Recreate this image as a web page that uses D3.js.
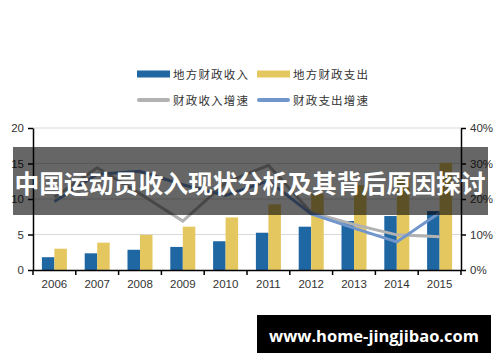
<!DOCTYPE html>
<html>
<head>
  <meta charset="utf-8">
  <script src="https://cdn.jsdelivr.net/npm/d3@7/dist/d3.min.js"></script>
  <style>
    body { margin: 0; background: #fff; }
  </style>
</head>
<body>
  <script>
    var width = 500, height = 362;

    var years = ["2006", "2007", "2008", "2009", "2010", "2011", "2012", "2013", "2014", "2015"];
    var revenue = [1.8, 2.35, 2.85, 3.25, 4.05, 5.25, 6.1, 6.9, 7.6, 8.3];
    var expense = [3.0, 3.85, 4.95, 6.1, 7.4, 9.25, 10.7, 11.95, 12.9, 15.1];
    var revenueGrowth = [20.5, 28.8, 21.5, 13.8, 24.6, 29.5, 16.2, 12.8, 9.9, 9.4];
    var expenseGrowth = [19.3, 27.0, 27.8, 24.0, 21.0, 25.1, 15.8, 11.8, 7.9, 16.1];
    var leftTicks = [0, 5, 10, 15, 20];
    var rightTicks = [0, 10, 20, 30, 40];

    var svg = d3.select("body")
      .append("svg")
      .attr("width", width)
      .attr("height", height);

    var x0 = 33, x1 = 461, yTop = 128, yBot = 270;

    var x = d3.scaleBand().domain(years).range([x0, x1]);
    var yL = d3.scaleLinear().domain([0, 20]).range([yBot, yTop]);
    var yR = d3.scaleLinear().domain([0, 40]).range([yBot, yTop]);

    // grid
    svg.append("g")
      .selectAll("line")
      .data(leftTicks.slice(1))
      .enter().append("line")
      .attr("x1", x0).attr("x2", x1)
      .attr("y1", d => yL(d)).attr("y2", d => yL(d))
      .attr("stroke", "#d9d9d9")
      .attr("stroke-width", 1);

    // bars
    var bw = 12.5;
    svg.append("g").selectAll("rect")
      .data(revenue)
      .enter().append("rect")
      .attr("x", (d, i) => x(years[i]) + x.bandwidth() / 2 - bw)
      .attr("y", d => yL(d))
      .attr("width", bw)
      .attr("height", d => yBot - yL(d))
      .attr("fill", "#1f67a3");

    svg.append("g").selectAll("rect")
      .data(expense)
      .enter().append("rect")
      .attr("x", (d, i) => x(years[i]) + x.bandwidth() / 2)
      .attr("y", d => yL(d))
      .attr("width", bw)
      .attr("height", d => yBot - yL(d))
      .attr("fill", "#e5c760");

    // lines
    var line = d3.line()
      .x((d, i) => x(years[i]) + x.bandwidth() / 2)
      .y(d => yR(d));

    svg.append("path")
      .datum(revenueGrowth)
      .attr("d", line)
      .attr("fill", "none")
      .attr("stroke", "#b2b2b2")
      .attr("stroke-width", 3);

    svg.append("path")
      .datum(expenseGrowth)
      .attr("d", line)
      .attr("fill", "none")
      .attr("stroke", "#7096cc")
      .attr("stroke-width", 3);

    // axes
    var axisFont = "'Liberation Sans', Arial, sans-serif";

    var left = svg.append("g")
      .attr("transform", "translate(" + x0 + ",0)")
      .call(d3.axisLeft(yL).tickValues(leftTicks).tickSize(5).tickSizeOuter(0));
    var right = svg.append("g")
      .attr("transform", "translate(" + x1 + ",0)")
      .call(d3.axisRight(yR).tickValues(rightTicks).tickSize(5).tickSizeOuter(0)
        .tickFormat(d => d + "%"));
    var bottom = svg.append("g")
      .attr("transform", "translate(0," + yBot + ")")
      .call(d3.axisBottom(x).tickSize(0).tickPadding(10));

    // ticks between categories on the x axis
    svg.append("g").selectAll("line")
      .data(years.concat(["end"]))
      .enter().append("line")
      .attr("x1", (d, i) => x0 + i * x.step())
      .attr("x2", (d, i) => x0 + i * x.step())
      .attr("y1", yBot).attr("y2", yBot + 5)
      .attr("stroke", "#000")
      .attr("stroke-width", 1.5);

    [left, right, bottom].forEach(function (g) {
      g.selectAll("path").attr("stroke", "#000").attr("stroke-width", 1.5);
      g.selectAll("line").attr("stroke", "#000").attr("stroke-width", 1.5);
      g.selectAll("text")
        .style("font-family", axisFont)
        .style("font-size", "11.5px")
        .attr("fill", "#333");
    });
    left.selectAll("text").attr("x", -9);
    right.selectAll("text").attr("x", 9);

    // legend
    var legend = [
      {label: "地方财政收入", color: "#1f67a3", type: "bar", x: 137, y: 74},
      {label: "地方财政支出", color: "#e5c760", type: "bar", x: 257, y: 74},
      {label: "财政收入增速", color: "#b2b2b2", type: "line", x: 137, y: 100},
      {label: "财政支出增速", color: "#7096cc", type: "line", x: 257, y: 100}
    ];
    var lg = svg.append("g").selectAll("g")
      .data(legend)
      .enter().append("g")
      .attr("transform", d => "translate(" + d.x + "," + d.y + ")");
    lg.append("rect")
      .attr("x", 0)
      .attr("y", d => d.type === "bar" ? -3.5 : -2)
      .attr("width", 33)
      .attr("height", d => d.type === "bar" ? 7 : 4)
      .attr("rx", d => d.type === "bar" ? 0 : 2)
      .attr("fill", d => d.color);
    lg.append("text")
      .attr("x", 36)
      .attr("y", 0)
      .attr("dominant-baseline", "central")
      .style("font-family", "'Noto Sans CJK SC', sans-serif")
      .style("font-size", "11.5px")
      .style("letter-spacing", "1.2px")
      .style("fill", "#333")
      .text(d => d.label);

    // banner overlay
    svg.append("rect")
      .attr("x", 13).attr("y", 147)
      .attr("width", 475).attr("height", 68)
      .attr("fill", "#000")
      .attr("fill-opacity", 0.6);
    svg.append("text")
      .attr("x", 250).attr("y", 182)
      .attr("text-anchor", "middle")
      .attr("dominant-baseline", "central")
      .style("font-family", "'Noto Sans CJK SC', sans-serif")
      .style("font-weight", "bold")
      .style("font-size", "24.8px")
      .style("fill", "#fff")
      .text("中国运动员收入现状分析及其背后原因探讨");

    // site box
    svg.append("rect")
      .attr("x", 257).attr("y", 315)
      .attr("width", 234).attr("height", 38)
      .attr("fill", "#000");
    svg.append("text")
      .attr("x", 374).attr("y", 335)
      .attr("text-anchor", "middle")
      .attr("dominant-baseline", "central")
      .style("font-family", "'Open Sans', sans-serif")
      .style("font-weight", "bold")
      .style("font-size", "16.5px")
      .style("fill", "#fff")
      .text("www.home-jingjibao.com");
  </script>
</body>
</html>
